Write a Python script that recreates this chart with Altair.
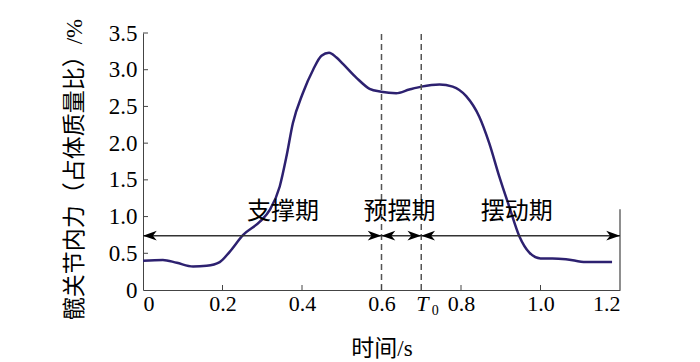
import altair as alt
import pandas as pd

# force curve (time s, force % body weight)
t = [0, 0.05, 0.085, 0.126, 0.16, 0.193, 0.218, 0.252, 0.294, 0.319, 0.344, 0.361,
     0.377, 0.402, 0.428, 0.449, 0.468, 0.486, 0.503, 0.537, 0.57, 0.599, 0.637,
     0.67, 0.70, 0.746, 0.779, 0.813, 0.846, 0.871, 0.896, 0.921, 0.947, 0.972,
     1.0, 1.03, 1.064, 1.114, 1.18]
f = [0.40, 0.41, 0.37, 0.32, 0.33, 0.38, 0.52, 0.75, 0.93, 1.09, 1.41, 1.82,
     2.27, 2.68, 3.0, 3.19, 3.23, 3.17, 3.08, 2.89, 2.74, 2.70, 2.68,
     2.73, 2.77, 2.80, 2.77, 2.64, 2.36, 2.0, 1.55, 1.14, 0.73, 0.51,
     0.43, 0.43, 0.42, 0.38, 0.38]

phase_bounds = [0.6, 0.7]          # dashed lines (0.6 and T0)
arrow_y = 0.74
phase_names = ["支撑期", "预摆期", "摆动期"]
phase_label_x = [0.352, 0.645, 0.94]
phase_label_y = 1.057
xticks = [0, 0.2, 0.4, 0.6, 0.8, 1.0, 1.2]
yticks = [0, 0.5, 1.0, 1.5, 2.0, 2.5, 3.0, 3.5]
right_edge_top = 1.1

FONT = "Liberation Serif, Noto Sans CJK SC"
W, H = 477, 257

xs = alt.Scale(domain=[0, 1.2], nice=False)
ys = alt.Scale(domain=[0, 3.5], nice=False)

XAXIS = alt.Axis(values=xticks, ticks=False, grid=False, domainColor="#444",
                 labelExpr="datum.value == 0 ? '0' : format(datum.value, '.1f')",
                 labelFont=FONT, labelFontSize=22, labelColor="black",
                 labelOverlap=False, labelPadding=3, title="时间/s",
                 titleFont=FONT, titleFontSize=23, titleFontWeight="normal",
                 titleColor="black", titleY=58, titleBaseline="middle")
YAXIS = alt.Axis(values=yticks, ticks=False, grid=False, domainColor="#444",
                 labelExpr="datum.value == 0 ? '0' : format(datum.value, '.1f')",
                 labelFont=FONT, labelFontSize=23, labelColor="black",
                 labelOverlap=False, labelPadding=6,
                 title="髋关节内力（占体质量比）/%",
                 titleFont=FONT, titleFontSize=23, titleFontWeight="normal",
                 titleColor="black", titleX=-69, titleY=136,
                 titleBaseline="middle", titleAlign="center")


def X(field):
    return alt.X(field, scale=xs, axis=XAXIS)


def Y(field):
    return alt.Y(field, scale=ys, axis=YAXIS)


curve_df = pd.DataFrame({"t": t, "f": f})
curve = alt.Chart(curve_df).mark_line(color="#2d2170", strokeWidth=2.5,
                                      interpolate="monotone").encode(
    x=X("t:Q"), y=Y("f:Q"))

ytick_df = pd.DataFrame({"v": yticks[1:]})
ytick_marks = alt.Chart(ytick_df).mark_rule(color="#444", strokeWidth=1).encode(
    x=alt.value(0), x2=alt.value(5), y=Y("v:Q"))

xtick_df = pd.DataFrame({"v": xticks[1:-1]})
xtick_marks = alt.Chart(xtick_df).mark_rule(color="#444", strokeWidth=1).encode(
    x=X("v:Q"), y=alt.value(H), y2=alt.value(H - 5))

dash_df = pd.DataFrame({"x": phase_bounds, "y0": [0, 0], "y1": [3.5, 3.5]})
dashes = alt.Chart(dash_df).mark_rule(color="#555", strokeWidth=1.5, strokeDash=[6, 4]).encode(
    x=X("x:Q"), y=Y("y0:Q"), y2="y1:Q")

right_df = pd.DataFrame({"x": [1.2], "y0": [0], "y1": [right_edge_top]})
right_line = alt.Chart(right_df).mark_rule(color="#444", strokeWidth=1.2).encode(
    x=X("x:Q"), y=Y("y0:Q"), y2="y1:Q")

hline_df = pd.DataFrame({"x0": [0], "x1": [1.2], "y": [arrow_y]})
hline = alt.Chart(hline_df).mark_rule(color="#333", strokeWidth=1.5).encode(
    x=X("x0:Q"), x2="x1:Q", y=Y("y:Q"))

RIGHT = "M0,0 L-1,-0.36 L-0.72,0 L-1,0.36 Z"
LEFT = "M0,0 L1,-0.36 L0.72,0 L1,0.36 Z"
arrows_df = pd.DataFrame({
    "x": [0, 0.6, 0.6, 0.7, 0.7, 1.2],
    "dir": ["L", "R", "L", "R", "L", "R"],
    "y": [arrow_y] * 6,
})
arrow_r = alt.Chart(arrows_df).transform_filter("datum.dir == 'R'").mark_point(
    shape=RIGHT, filled=True, color="black", size=760, opacity=1).encode(
    x=X("x:Q"), y=Y("y:Q"))
arrow_l = alt.Chart(arrows_df).transform_filter("datum.dir == 'L'").mark_point(
    shape=LEFT, filled=True, color="black", size=760, opacity=1).encode(
    x=X("x:Q"), y=Y("y:Q"))

lab_df = pd.DataFrame({"name": phase_names, "x": phase_label_x, "y": [phase_label_y] * 3})
labels = alt.Chart(lab_df).mark_text(font=FONT, fontSize=24, color="black",
                                     baseline="middle", align="center").encode(
    x=X("x:Q"), y=Y("y:Q"), text="name:N")

t0_df = pd.DataFrame({"x": [phase_bounds[1]]})
t0_T = alt.Chart(t0_df).mark_text(font="Liberation Serif", fontSize=22, fontStyle="italic",
                                  color="black", baseline="middle", align="center", dx=1).encode(
    x=X("x:Q"), y=alt.value(H + 14), text=alt.value("T"))
t0_0 = alt.Chart(t0_df).mark_text(font="Liberation Serif", fontSize=14, color="black",
                                  baseline="middle", align="center", dx=14).encode(
    x=X("x:Q"), y=alt.value(H + 21), text=alt.value("0"))

chart = alt.layer(
    curve, dashes, right_line, hline, ytick_marks, xtick_marks,
    arrow_r, arrow_l, labels, t0_T, t0_0
).properties(
    width=W, height=H,
    background="white",
    autosize=alt.AutoSizeParams(type="none"),
    padding={"left": 135, "top": 25, "right": 72, "bottom": 72},
).configure_view(stroke=None)

chart.save("out.html", embed_options={"renderer": "svg", "actions": False})
